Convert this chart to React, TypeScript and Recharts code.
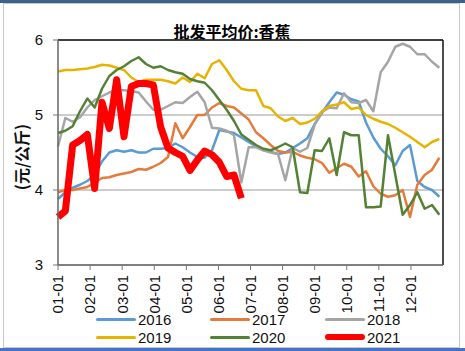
import React from "react";
import {
  LineChart,
  Line,
  XAxis,
  YAxis,
  CartesianGrid,
  ReferenceLine,
} from "recharts";

// x axis: weekly points, month labels
const monthLabels = [
  "01-01", "02-01", "03-01", "04-01", "05-01", "06-01",
  "07-01", "08-01", "09-01", "10-01", "11-01", "12-01",
];
const yTicks = [3, 4, 5, 6];

const s2016 = [
  3.88, 3.97, 4.03, 4.07, 4.12, 4.2, 4.38, 4.5, 4.53, 4.51, 4.53, 4.5, 4.5,
  4.55, 4.55, 4.56, 4.62, 4.57, 4.5, 4.44, 4.43, 4.53, 4.8, 4.78, 4.76, 4.7,
  4.64, 4.58, 4.53, 4.51, 4.48, 4.5, 4.56, 4.62, 4.69, 4.88, 5.03, 5.17, 5.3,
  5.27, 5.21, 5.18, 4.9, 4.7, 4.55, 4.45, 4.33, 4.52, 4.6, 4.12, 4.04, 4.0, 3.91,
];
const s2017 = [
  3.97, 4.0, 4.0, 4.02, 4.04, 4.1, 4.16, 4.17, 4.2, 4.22, 4.24, 4.28, 4.27,
  4.31, 4.36, 4.44, 4.89, 4.69, 4.84, 5.0, 5.0, 5.1, 5.16, 5.12, 5.1, 5.02,
  4.94, 4.77, 4.69, 4.6, 4.52, 4.5, 4.51, 4.46, 4.43, 4.41, 4.36, 4.23, 4.29,
  4.35, 4.31, 4.18, 4.25, 4.05, 3.95, 3.91, 3.93, 4.0, 3.64, 4.07, 4.2, 4.27, 4.43,
];
const s2018 = [
  4.58, 4.96, 4.91, 4.97, 5.1, 5.2, 5.25, 5.3, 5.33, 5.33, 5.32, 5.3, 5.18,
  5.07, 5.07, 5.12, 5.17, 5.16, 5.24, 5.31, 5.17, 4.83, 4.82, 4.79, 4.73, 4.1,
  4.57, 4.57, 4.53, 4.5, 4.48, 4.13, 4.56, 4.51, 4.56, 4.87, 5.04, 5.1, 5.09,
  5.29, 5.17, 5.16, 5.2, 5.05, 5.57, 5.71, 5.91, 5.95, 5.91, 5.81, 5.81, 5.71, 5.63,
];
const s2019 = [
  5.58, 5.6, 5.6, 5.61, 5.62, 5.64, 5.67, 5.66, 5.63, 5.6, 5.5, 5.44, 5.47,
  5.47, 5.47, 5.45, 5.42, 5.5, 5.44, 5.55, 5.49, 5.68, 5.73, 5.6, 5.45, 5.35,
  5.33, 5.33, 5.12, 5.09, 4.98, 4.92, 4.96, 4.88, 4.9, 4.95, 5.05, 5.12, 5.14,
  5.17, 5.08, 5.1, 5.0, 4.95, 4.91, 4.88, 4.83, 4.77, 4.71, 4.64, 4.57, 4.64, 4.68,
];
const s2020 = [
  4.76, 4.79, 4.85, 5.05, 5.22, 5.1, 5.35, 5.52, 5.6, 5.65, 5.72, 5.77, 5.68,
  5.63, 5.65, 5.6, 5.57, 5.55, 5.48, 5.45, 5.43, 5.33, 5.2, 5.07, 4.92, 4.74,
  4.67, 4.6, 4.55, 4.53, 4.57, 4.62, 4.57, 3.97, 3.96, 4.53, 4.52, 4.69, 4.2,
  4.77, 4.73, 4.73, 3.77, 3.77, 3.78, 4.73, 4.2, 3.67, 3.8, 3.97, 3.75, 3.8, 3.67,
];
const s2021 = [
  3.64, 3.72, 4.6, 4.66, 4.74, 4.02, 5.17, 4.82, 5.47, 4.71, 5.38, 5.42, 5.42,
  5.4, 4.84, 4.56, 4.5, 4.45, 4.26, 4.4, 4.52, 4.47, 4.37, 4.18, 4.2, 3.89,
];

const series = [
  { key: "2016", values: s2016, color: "#5B9BD5", width: 2.5 },
  { key: "2017", values: s2017, color: "#E57B3A", width: 2.5 },
  { key: "2018", values: s2018, color: "#A5A5A5", width: 2.5 },
  { key: "2019", values: s2019, color: "#E6B400", width: 2.5 },
  { key: "2020", values: s2020, color: "#548235", width: 2.5 },
  { key: "2021", values: s2021, color: "#FF0000", width: 7 },
];

const X_MAX = 52.5;
const monthTicks = monthLabels.map((_, i) => (i * X_MAX) / 12);

const data = s2016.map((_, i) => {
  const row: Record<string, number | null> = { week: i };
  series.forEach((s) => {
    row[s.key] = s.values[i] ?? null;
  });
  return row;
});

const FONT = '"Liberation Sans", Arial, "Noto Sans CJK SC", sans-serif';

const XTick = (props: any) => {
  const { x, y, index } = props;
  const ty = y + 3;
  return (
    <text
      x={x}
      y={ty}
      transform={`rotate(-90, ${x}, ${ty})`}
      textAnchor="end"
      dy="0.36em"
      fontSize={15}
      fontFamily={FONT}
      fill="#111"
    >
      {monthLabels[index]}
    </text>
  );
};

const legendPos = [
  { left: 96, top: 310 },
  { left: 210, top: 310 },
  { left: 325, top: 310 },
  { left: 96, top: 328 },
  { left: 210, top: 328 },
  { left: 325, top: 328 },
];

export default function App() {
  return (
    <div
      style={{
        position: "absolute",
        left: 0,
        top: 0,
        width: 465,
        height: 351,
        background: "#fff",
        overflow: "hidden",
        fontFamily: FONT,
      }}
    >
      <div style={{ position: "absolute", left: 0, top: 0, width: 465, height: 3, background: "#3F5F8F" }} />
      <div style={{ position: "absolute", left: 0, top: 348, width: 465, height: 3, background: "#4472C4" }} />
      <div
        style={{
          position: "absolute",
          left: 3,
          top: 3,
          width: 455,
          height: 343,
          border: "1px solid #c8c8c8",
        }}
      />
      <div
        style={{
          position: "absolute",
          left: 132,
          top: 20,
          width: 200,
          textAlign: "center",
          fontSize: 16,
          fontWeight: "bold",
          fontFamily: '"Noto Sans CJK SC", sans-serif',
          color: "#000",
          lineHeight: "22px",
        }}
      >
        批发平均价:香蕉
      </div>
      <div
        style={{
          position: "absolute",
          left: 21,
          top: 157,
          transform: "translate(-50%, -50%) rotate(-90deg)",
          fontSize: 16,
          fontWeight: 600,
          fontFamily: '"Noto Sans CJK SC", sans-serif',
          whiteSpace: "nowrap",
          color: "#111",
        }}
      >
        (元/公斤)
      </div>
      <div style={{ position: "absolute", left: 0, top: 0 }}>
        <LineChart
          width={465}
          height={351}
          data={data}
          margin={{ top: 40, right: 22, left: 0, bottom: 0 }}
        >
          <CartesianGrid horizontal vertical={false} stroke="#9a9a9a" strokeWidth={1} />
          <XAxis
            dataKey="week"
            type="number"
            domain={[0, X_MAX]}
            ticks={monthTicks}
            interval={0}
            height={86}
            tickSize={5}
            tickLine={{ stroke: "#777" }}
            axisLine={{ stroke: "#666", strokeWidth: 1.5 }}
            tick={<XTick />}
          />
          <YAxis
            type="number"
            domain={[3, 6]}
            ticks={yTicks}
            width={58}
            tickSize={5}
            tickMargin={10}
            tickLine={{ stroke: "#777" }}
            axisLine={{ stroke: "#666", strokeWidth: 1.5 }}
            tick={{ fontSize: 15, fill: "#111", fontFamily: FONT }}
          />
          <ReferenceLine y={6} stroke="#111" strokeWidth={1.5} />
          <ReferenceLine x={X_MAX} stroke="#111" strokeWidth={1.5} />
          {series.map((s) => (
            <Line
              key={s.key}
              dataKey={s.key}
              stroke={s.color}
              strokeWidth={s.width}
              dot={false}
              activeDot={false}
              strokeLinejoin="round"
              connectNulls={false}
              isAnimationActive={false}
            />
          ))}
        </LineChart>
      </div>
      {series.map((s, i) => (
        <div
          key={s.key}
          style={{
            position: "absolute",
            left: legendPos[i].left,
            top: legendPos[i].top,
            height: 18,
            display: "flex",
            alignItems: "center",
            fontSize: 15,
            color: "#111",
          }}
        >
          <span
            style={{
              display: "inline-block",
              width: 40,
              height: s.width > 3 ? 6 : 3,
              borderRadius: 3,
              background: s.color,
              marginRight: 2,
            }}
          />
          {s.key}
        </div>
      ))}
    </div>
  );
}
